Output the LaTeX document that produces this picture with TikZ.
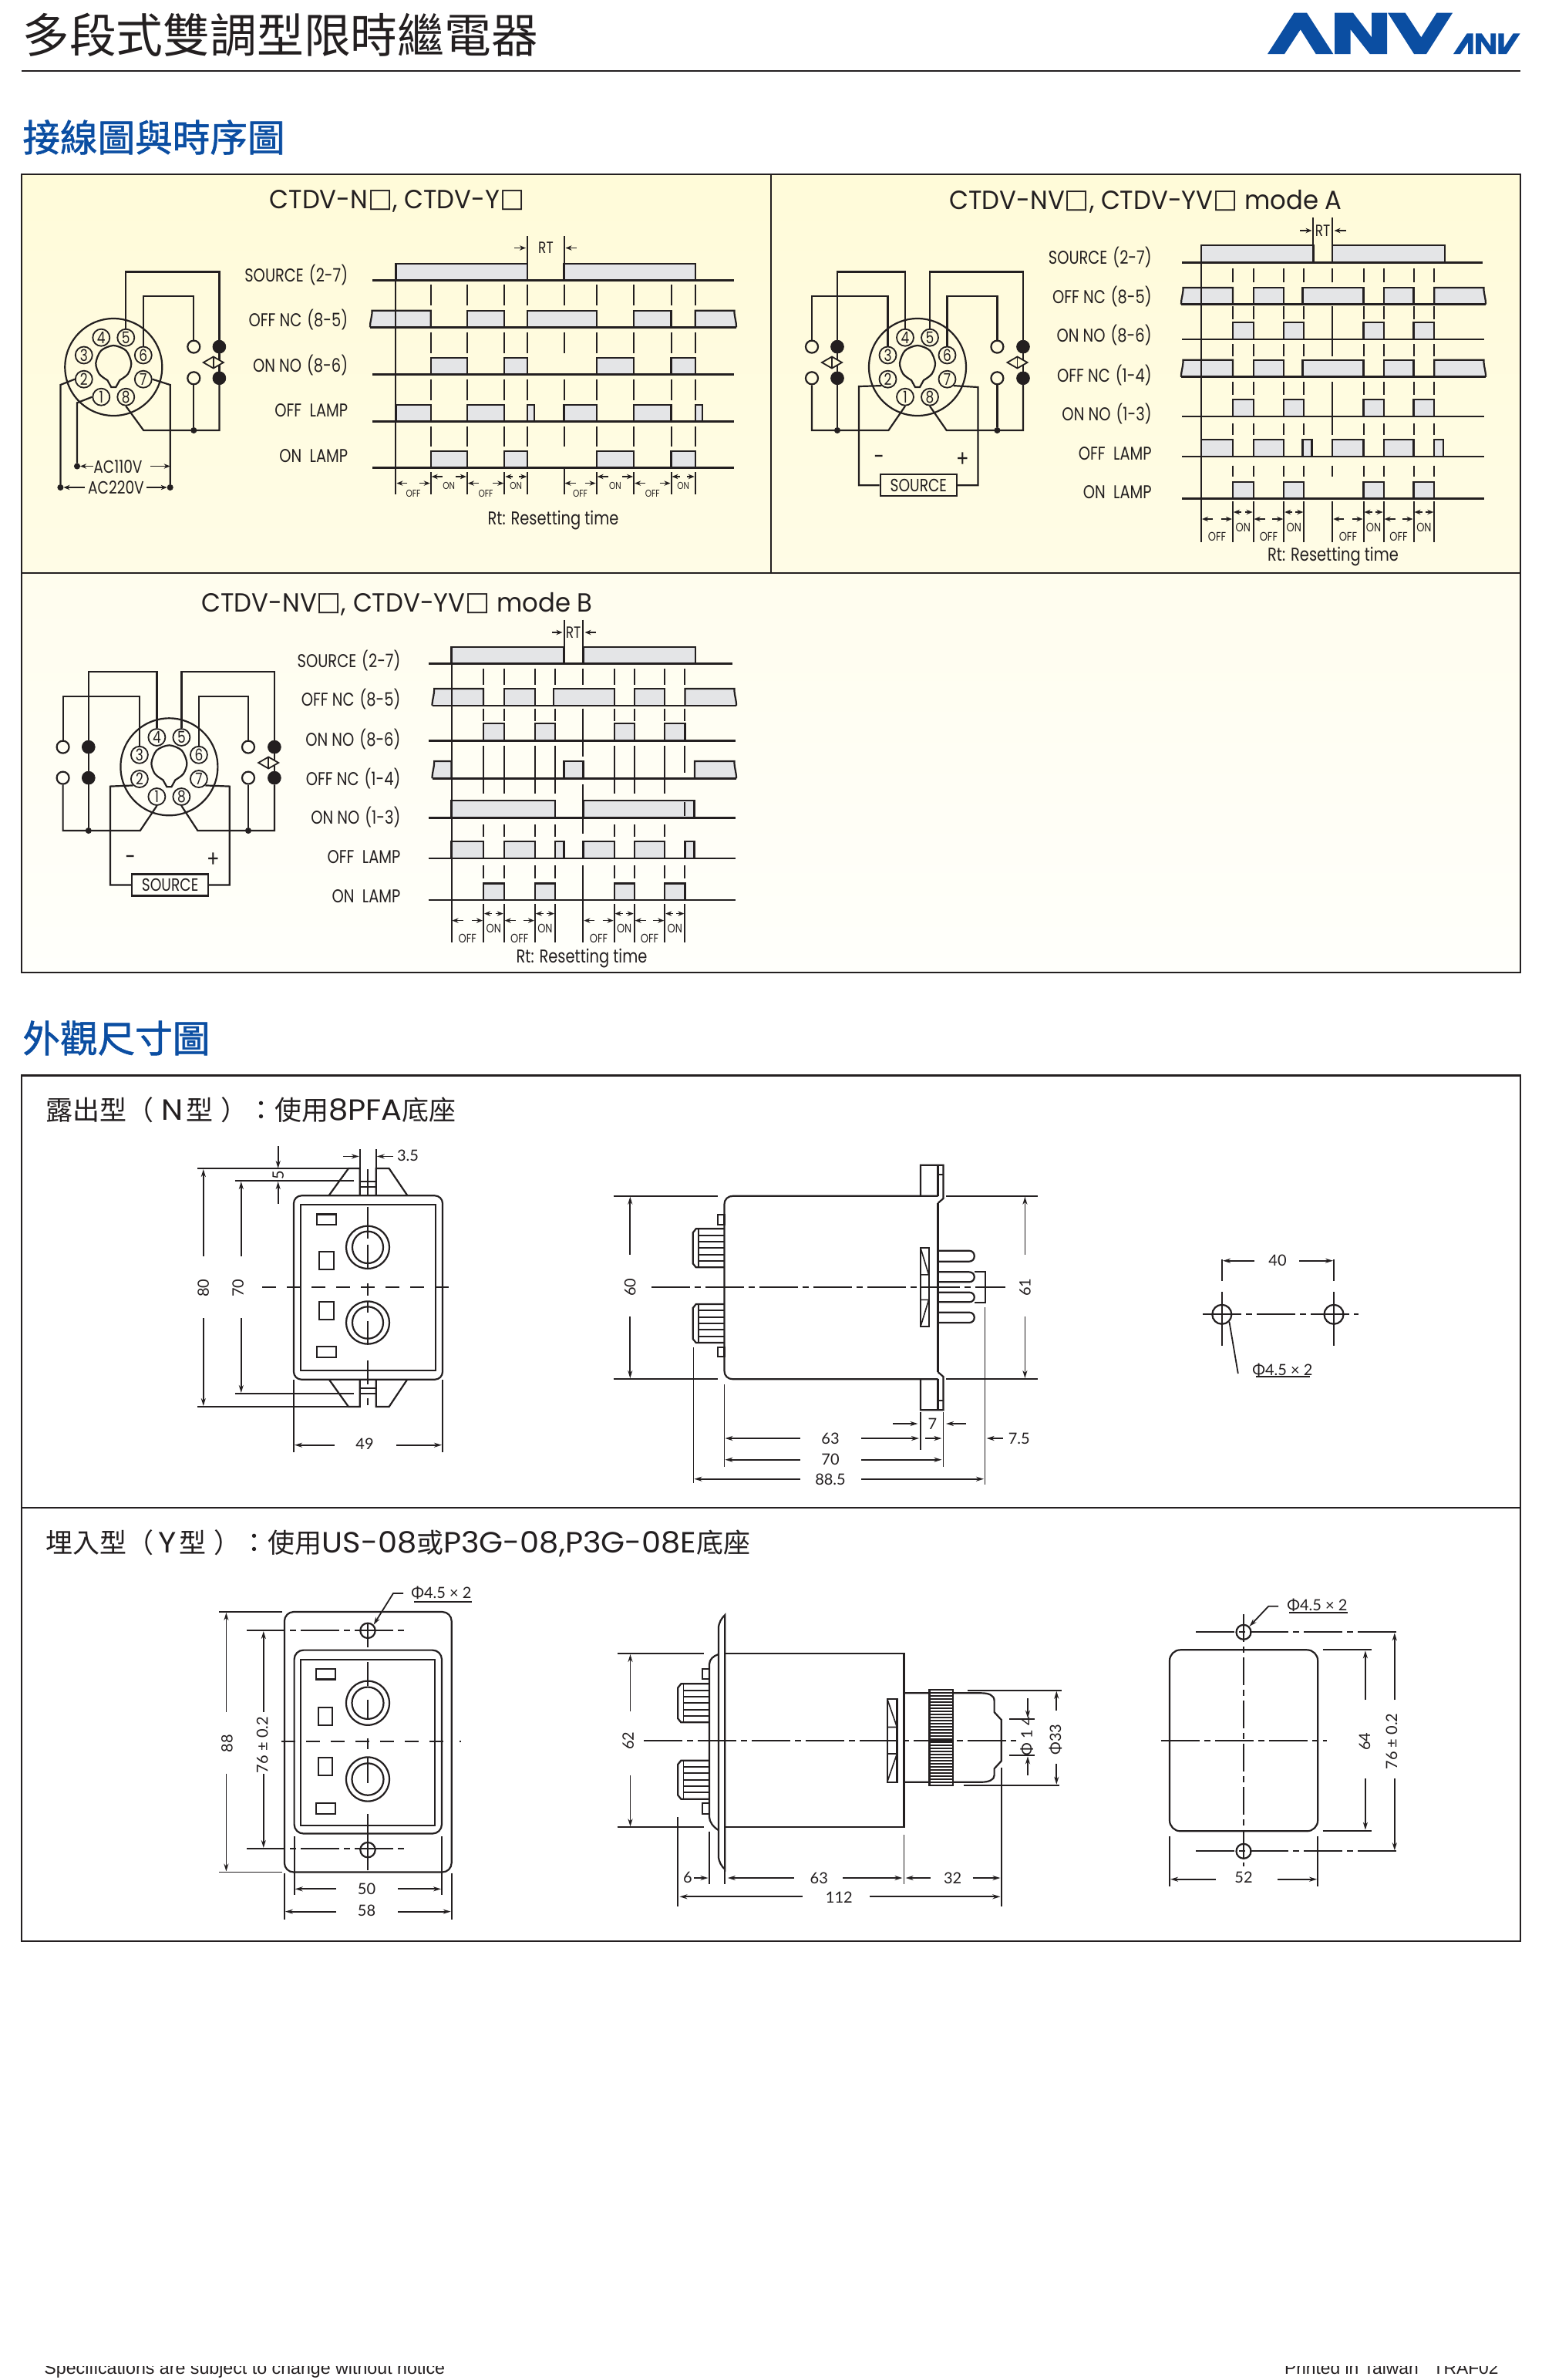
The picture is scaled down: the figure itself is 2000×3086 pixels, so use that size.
\documentclass[tikz,border=0pt]{standalone}
\usepackage{fontspec}
\usetikzlibrary{arrows.meta}
\newfontfamily\lblf[FakeStretch=0.81]{Poppins}
\newfontfamily\ttlf[FakeStretch=0.95]{Poppins}
\newfontfamily\subf[FakeStretch=1.05]{Poppins}
\newfontfamily\dimf{Lato}
\newfontfamily\djf{DejaVu Sans}
\newfontfamily\cjkf{Noto Sans CJK TC}
\newfontfamily\cjkm[FakeBold=1.2]{Noto Sans CJK TC}
\newfontfamily\footf{Liberation Sans}
\definecolor{ink}{HTML}{231F20}
\definecolor{anvblue}{HTML}{0B4EA2}
\definecolor{wavefill}{HTML}{E4E5E7}
\definecolor{creamA}{HTML}{FFFBD9}
\definecolor{creamB}{HTML}{FFFCE6}
\definecolor{creamC}{HTML}{FFFDEE}
\definecolor{creamD}{HTML}{FFFFFB}
\tikzset{
  wire/.style={draw=ink,line width=1.1pt},
  baseln/.style={draw=ink,line width=1.4pt},
  waveln/.style={draw=ink,line width=1.1pt},
  tick/.style={draw=ink,line width=1pt},
  part/.style={draw=ink,line width=1.1pt},
  dimln/.style={draw=ink,line width=.9pt},
  dimar/.style={draw=ink,line width=.9pt,-{Stealth[length=5pt,width=3pt]}},
  tarrow/.style={draw=ink,line width=.8pt,-{Stealth[length=4pt,width=3.2pt]}},
  cdash/.style={draw=ink,line width=1.1pt,dash pattern=on 25pt off 3pt on 4pt off 3pt},
  cdashb/.style={draw=ink,line width=1.3pt,dash pattern=on 9pt off 7pt},
  frameln/.style={draw=ink,line width=1.4pt},
  pinn/.style={circle,draw=ink,line width=.9pt,minimum size=11pt,inner sep=0pt,text=ink,font=\lblf\fontsize{10.5}{10}\selectfont},
  copen/.style={circle,draw=ink,line width=1.1pt,minimum size=8pt,inner sep=0pt},
  cfill/.style={circle,draw=ink,fill=ink,minimum size=8.4pt,inner sep=0pt},
  jdot/.style={circle,draw=ink,fill=ink,minimum size=3.6pt,inner sep=0pt},
  lbl/.style={text=ink,inner sep=0pt,font=\lblf\fontsize{12}{12}\selectfont},
  rowlbl/.style={lbl,anchor=east},
  rtt/.style={lbl,font=\lblf\fontsize{12}{12}\selectfont},
  smalll/.style={text=ink,inner sep=0pt,font=\lblf\fontsize{6.5}{7}\selectfont},
  smallm/.style={text=ink,inner sep=0pt,font=\lblf\fontsize{8}{8}\selectfont},
  ptitle/.style={text=ink,inner sep=0pt,font=\ttlf\fontsize{17}{17}\selectfont},
  dimt/.style={text=ink,inner sep=0pt,font=\dimf\fontsize{10}{10}\selectfont},
  dimr/.style={dimt,rotate=90},
  boxn/.style={draw=ink,line width=1.1pt,inner sep=0pt,text=ink,minimum width=49.5pt,minimum height=14pt,font=\lblf\fontsize{11.5}{11}\selectfont},
  head/.style={text=anvblue,inner sep=0pt,anchor=west,font=\cjkm\fontsize{24.3}{24}\selectfont},
  sub/.style={text=ink,inner sep=0pt,anchor=west,font=\cjkf\fontsize{17.5}{18}\selectfont},
}
\newcount\nidx
\newcommand\Tx[4][]{\global\advance\nidx by 1 \node[#1] (t\the\nidx) at (#2,#3) {#4};}
\newcommand\sqb{{\djf\fontsize{17}{15}\selectfont\raisebox{1pt}{□}}}
\newcommand\latn[1]{{\subf\fontsize{19}{18}\selectfont #1}}
\newcommand\gp{\hspace{3.5pt}}
\newcommand\Rt{Rt: Resetting time}
\newcommand\pulses[3]{\foreach \a/\b in {#3}{\fill[wavefill] (\a,#1) rectangle (\b,#2); \draw[waveln] (\a,#2) -- (\a,#1) -- (\b,#1) -- (\b,#2);}}
\newcommand\baseline[3]{\draw[baseln] (#2,#1) -- (#3,#1);}
\newcommand\brkL[4]{\fill[wavefill] (#3+2.5,#1) -- (#4,#1) -- (#4,#2) -- (#3,#2) .. controls (#3-.5,#2-6) and (#3+3,#1+7) .. cycle;
  \draw[waveln] (#3,#2) .. controls (#3-.5,#2-6) and (#3+3,#1+7) .. (#3+2.5,#1) -- (#4,#1) -- (#4,#2);}
\newcommand\brkR[4]{\fill[wavefill] (#3,#2) -- (#3,#1) -- (#4-2.5,#1) .. controls (#4-3,#1+7) and (#4+.5,#2-6) .. (#4,#2) -- cycle;
  \draw[waveln] (#3,#2) -- (#3,#1) -- (#4-2.5,#1) .. controls (#4-3,#1+7) and (#4+.5,#2-6) .. (#4,#2);}
\newcommand\ticks[2]{\foreach \xx in {#1}{\foreach \ya/\yb in {#2}{\draw[tick] (\xx,\ya) -- (\xx,\yb);}}}
\newcommand\segT[7]{%
  \draw[tarrow] (#1+#6+1,#3) -- (#1+1,#3);
  \draw[tarrow] (#2-#6-1,#3) -- (#2-1,#3);
  \pgfmathsetmacro\midx{(#1+#2)/2}
  \Tx[#7]{\midx}{#4}{#5}}
\newcommand\socket[3]{%
  \draw[part] (#2,#3) circle [radius=63];
  \begin{scope}[shift={(#2,#3)}]
    \draw[part] plot[smooth] coordinates {(-8,17) (-18.5,9) (-23,-5) (-16.3,-21.3) (0,-28) (16.3,-21.3) (23,-5) (18.5,9) (8,17)} -- (3,26) -- (-3,26) -- cycle;
    \node[pinn] (#1p4) at (-16,-38.3) {4};
    \node[pinn] (#1p5) at (16,-38.3) {5};
    \node[pinn] (#1p3) at (-38.5,-15.5) {3};
    \node[pinn] (#1p6) at (38.5,-15.5) {6};
    \node[pinn] (#1p2) at (-38.5,15.7) {2};
    \node[pinn] (#1p7) at (38.5,15.7) {7};
    \node[pinn] (#1p1) at (-16,38.7) {1};
    \node[pinn] (#1p8) at (16,38.7) {8};
  \end{scope}}
\newcommand\relay[3]{%
  \fill[#3] (#1-13,#2) -- (#1,#2-7.5) -- (#1+13,#2) -- (#1,#2+7.5) -- cycle;
  \draw[wire,line width=.9pt] (#1-13,#2) -- (#1,#2-7.5) -- (#1+13,#2) -- (#1,#2+7.5) -- cycle;
  \draw[wire,line width=.9pt] (#1,#2-7.5) -- (#1,#2+7.5);}
\newcommand\sknob[4]{%
  \draw[part] (#2,#3) -- (#1+4,#3) -- (#1,#3+5) -- (#1,#4-5) -- (#1+4,#4) -- (#2,#4);
  \draw[part,line width=.8pt] (#1+7,#3) -- (#1+7,#4);
  \foreach \i in {1,...,5}{\pgfmathsetmacro\yy{#3+\i*(#4-#3)/6}\draw[part,line width=.9pt] (#1+7,\yy) -- (#2,\yy);}}
\newcommand\sockin[4]{%
  \draw[part] (#1,#3) rectangle (#2,#4);
  \pgfmathsetmacro\ua{#3+(#4-#3)*.34}\pgfmathsetmacro\ub{#3+(#4-#3)*.66}
  \draw[part,line width=.8pt] (#1,\ua) -- (#2,\ua) (#1,\ub) -- (#2,\ub) (#1,#3) -- (#2,\ua) (#1,#4) -- (#2,\ub);}
\newcommand\spin[2]{\draw[part] (1216.5,#1) -- (1257,#1) .. controls (1266,#1) and (1266,#2) .. (1257,#2) -- (1216.5,#2);}
\newcommand\vsegs[3][part]{\foreach \a/\b in {#3}{\draw[#1] (#2,\a) -- (#2,\b);}}
\newcommand\frect[4]{\draw[part] (#1,#3) rectangle (#2,#4);}
\begin{document}
\begin{tikzpicture}[x=.5pt,y=-.5pt]
\useasboundingbox (0,0) rectangle (2000,3086);
\fill[white] (0,0) rectangle (2000,3086);
% ===== header
\Tx[text=ink,inner sep=0pt,anchor=west,font=\cjkf\fontsize{30.4}{30}\selectfont]{29}{45}{多段式雙調型限時繼電器}
\draw[frameln,line width=1.2pt] (28,92) -- (1972,92);
\fill[anvblue] (1644,70) -- (1678.3,16.7) -- (1695,16.7) -- (1729.3,70) -- (1706.7,70) -- (1686.7,38.3) -- (1666,70) -- cycle;
\fill[anvblue] (1731,70) -- (1731,16.7) -- (1755,16.7) -- (1779,48.3) -- (1779,16.7) -- (1799,16.7) -- (1799,70) -- (1776.7,70) -- (1751.7,38.3) -- (1751.7,70) -- cycle;
\fill[anvblue] (1800,16.7) -- (1822.7,16.7) -- (1843.3,48.3) -- (1863.3,16.7) -- (1884,16.7) -- (1850,70) -- (1834,70) -- cycle;
\fill[anvblue] (1885,70) -- (1902.7,43.3) -- (1910.7,43.3) -- (1910.7,70) -- (1904,70) -- (1904,55) -- (1894,70) -- cycle;
\fill[anvblue] (1914,70) -- (1914,43.3) -- (1921.7,43.3) -- (1933.3,60) -- (1933.3,43.3) -- (1940,43.3) -- (1940,70) -- (1932.7,70) -- (1921,53.3) -- (1921,70) -- cycle;
\fill[anvblue] (1943.3,43.3) -- (1950.7,43.3) -- (1950.7,61.7) -- (1962.7,43.3) -- (1971.7,43.3) -- (1954,70) -- (1943.3,70) -- cycle;
\Tx[head]{29}{178}{接線圖與時序圖}
\Tx[head]{29}{1346}{外觀尺寸圖}
% ===== wiring frame
\shade[top color=creamA,bottom color=creamB] (28,226) rectangle (1972,743);
\shade[top color=creamC,bottom color=creamD] (28,743) rectangle (1972,1261);
\draw[frameln] (28,226) rectangle (1972,1261);
\draw[frameln] (28,743) -- (1972,743);
\draw[frameln] (1000,226) -- (1000,743);
% ===== panel 1
\Tx[ptitle]{515}{261}{CTDV-N\sqb, CTDV-Y\sqb}
\socket{A}{147.3}{476}
\node[copen] (Aco1) at (251.3,449.6) {};
\node[copen] (Aco2) at (251.3,490.3) {};
\node[cfill] (Acf1) at (284.4,449.6) {};
\node[cfill] (Acf2) at (284.4,490.3) {};
\node[jdot] (Ad) at (251.3,558) {};
\draw[wire] (Acf1) -- (Acf2);
\relay{276.8}{470}{creamA}
\draw[wire] (Ap5.north) |- (284.4,352.5) -- (Acf1.north);
\draw[wire] (Ap6.north) |- (251.3,384) -- (Aco1.north);
\draw[wire] (Aco2.south) -- (Ad);
\draw[wire] (Acf2.south) |- (186.2,558) -- (Ap8.south);
\node[jdot] (Ad1) at (78.4,632) {};
\node[jdot] (Ad2) at (220.7,632) {};
\node[jdot] (Ad3) at (100,604.5) {};
\coordinate (Aa7) at (220.7,604.5);
\draw[wire] (Ap2.west) -- (78.4,499) -- (Ad1);
\draw[wire] (Ap1.west) -- (100,522.3) -- (Ad3);
\draw[wire] (Ap7.east) -- (220.7,499) -- (Ad2);
\Tx[lbl,font=\lblf\fontsize{11.5}{12}\selectfont]{153}{605}{AC110V}
\Tx[lbl,font=\lblf\fontsize{11.5}{12}\selectfont]{150.5}{632}{AC220V}
\draw[tarrow] (121,604.5) -- (Ad3);
\draw[tarrow] (195,604.5) -- (Aa7);
\draw[tarrow] (110,632) -- (Ad1);
\draw[tarrow] (190,632) -- (Ad2);
\Tx[rowlbl]{451.5}{357}{SOURCE\gp(2-7)}
\Tx[rowlbl]{451.5}{415}{OFF NC\gp(8-5)}
\Tx[rowlbl]{451.5}{473.5}{ON NO\gp(8-6)}
\Tx[rowlbl]{451.5}{532}{OFF\ \ LAMP}
\Tx[rowlbl]{451.5}{591}{ON\ \ LAMP}
\pulses{342}{363.5}{513.4/684.3,731.5/901.8}
\brkL{402.7}{424.3}{480}{558.7}
\pulses{402.7}{424.3}{605.9/654.3,684.3/773.6,822.1/870.5}
\brkR{402.7}{424.3}{901.8}{955}
\pulses{464}{485.5}{558.7/605.9,654.3/684.3,773.6/822.1,870.5/901.8}
\pulses{525}{546.7}{513.4/558.7,605.9/654.3,684.3/693,731.5/773.6,822.1/870.5,901.8/911}
\pulses{585}{606.5}{558.7/605.9,654.3/684.3,773.6/822.1,870.5/901.8}
\baseline{363.5}{483}{952}
\baseline{424.3}{480}{955}
\baseline{485.5}{483}{952}
\baseline{546.7}{483}{952}
\baseline{606.5}{483}{952}
\draw[tick] (513.4,342) -- (513.4,641);
\ticks{558.7,605.9,654.3,684.3,731.5,773.6,822.1,870.5,901.8}{369/396,430.5/458,491.7/519,552.5/579}
\ticks{558.7,605.9,654.3,684.3,731.5,773.6,822.1,870.5,901.8}{612/641}
\draw[tick] (731.5,606.5) -- (731.5,612);
\draw[tick] (684.3,306) -- (684.3,342);
\draw[tick] (731.5,306) -- (731.5,342);
\draw[tarrow] (667,321.5) -- (682,321.5);
\draw[tarrow] (748,321.5) -- (733.5,321.5);
\Tx[lbl,font=\lblf\fontsize{10.5}{11}\selectfont]{708}{321}{RT}
\segT{513.4}{558.7}{626.6}{639.5}{OFF}{14}{smalll}
\segT{558.7}{605.9}{618}{630}{ON}{14}{smalll}
\segT{605.9}{654.3}{626.6}{639.5}{OFF}{14}{smalll}
\segT{654.3}{684.3}{618}{630}{ON}{10}{smalll}
\segT{731.5}{773.6}{626.6}{639.5}{OFF}{14}{smalll}
\segT{773.6}{822.1}{618}{630}{ON}{14}{smalll}
\segT{822.1}{870.5}{626.6}{639.5}{OFF}{14}{smalll}
\segT{870.5}{901.8}{618}{630}{ON}{10}{smalll}
\Tx[rtt]{717.5}{675}{\Rt}
% ===== panel 2
\Tx[ptitle]{1486}{261}{CTDV-NV\sqb, CTDV-YV\sqb{} mode A}
\socket{B}{1190}{476}
\node[copen] (Bco1) at (1053,449.6) {};
\node[copen] (Bco2) at (1053,490.3) {};
\node[cfill] (Bcf1) at (1086,449.6) {};
\node[cfill] (Bcf2) at (1086,490.3) {};
\node[copen] (Bco3) at (1293.4,449.6) {};
\node[copen] (Bco4) at (1293.4,490.3) {};
\node[cfill] (Bcf3) at (1327,449.6) {};
\node[cfill] (Bcf4) at (1327,490.3) {};
\node[jdot] (Bd1) at (1086,558) {};
\node[jdot] (Bd2) at (1293.4,558) {};
\draw[wire] (Bcf1) -- (Bcf2);
\draw[wire] (Bcf3) -- (Bcf4);
\relay{1079}{470}{creamA}
\relay{1319.5}{470}{creamA}
\draw[wire] (Bp4.north) |- (1086,352.5) -- (Bcf1.north);
\draw[wire] (Bp3.north) |- (1053,384) -- (Bco1.north);
\draw[wire] (Bp5.north) |- (1327,352.5) -- (Bcf3.north);
\draw[wire] (Bp6.north) |- (1293.4,384) -- (Bco3.north);
\draw[wire] (Bco2.south) |- (1152.4,558) -- (Bp1.south);
\draw[wire] (Bcf2.south) -- (Bd1);
\draw[wire] (Bcf4.south) |- (1227.7,558) -- (Bp8.south);
\draw[wire] (Bco4.south) -- (Bd2);
\node[boxn] (Bsrc) at (1191.3,629.2) {SOURCE};
\draw[wire] (Bp2.south west) -- (1114,501) |- (Bsrc.west);
\draw[wire] (Bp7.south east) -- (1268.5,502) |- (Bsrc.east);
\Tx[lbl,font=\lblf\fontsize{15}{15}\selectfont]{1140}{596}{−}
\Tx[lbl,font=\lblf\fontsize{15}{15}\selectfont]{1248.7}{596}{+}
\Tx[rowlbl]{1494}{333.4}{SOURCE\gp(2-7)}
\Tx[rowlbl]{1494}{385}{OFF NC\gp(8-5)}
\Tx[rowlbl]{1494}{435}{ON NO\gp(8-6)}
\Tx[rowlbl]{1494}{486.4}{OFF NC\gp(1-4)}
\Tx[rowlbl]{1494}{537}{ON NO\gp(1-3)}
\Tx[rowlbl]{1494}{588}{OFF\ \ LAMP}
\Tx[rowlbl]{1494}{638.5}{ON\ \ LAMP}
\pulses{318}{340.6}{1558/1703.4,1728.3/1873.7}
\brkL{373}{394.6}{1532}{1598.9}
\pulses{373}{394.6}{1625.6/1665.2,1689.5/1768.5,1794.6/1833.5}
\brkR{373}{394.6}{1860.3}{1927}
\pulses{417.6}{440}{1598.9/1625.6,1665.2/1691.3,1768.5/1794.6,1833.5/1860.3}
\brkL{466.8}{488.8}{1532}{1598.9}
\pulses{466.8}{488.8}{1625.6/1665.2,1689.5/1768.5,1794.6/1833.5}
\brkR{466.8}{488.8}{1860.3}{1927}
\pulses{518}{540}{1598.9/1625.6,1665.2/1691.3,1768.5/1794.6,1833.5/1860.3}
\pulses{570}{592}{1558/1598.9,1625.6/1665.2,1689.5/1701.5,1728.3/1768.5,1794.6/1833.5,1860.3/1871.8}
\pulses{624.7}{646.7}{1598.9/1625.6,1665.2/1691.3,1768.5/1794.6,1833.5/1860.3}
\baseline{340.6}{1533}{1923}
\baseline{394.6}{1532}{1927}
\baseline{440}{1533}{1925}
\baseline{488.8}{1532}{1927}
\baseline{540}{1533}{1925}
\baseline{592}{1533}{1925}
\baseline{646.7}{1533}{1925}
\draw[tick] (1558,318) -- (1558,703);
\ticks{1598.9,1625.6,1665.2,1691.3,1728.3,1768.5,1794.6,1833.5,1860.3}{348/366,397/414,446/461.6,495/512,549/564.4,603.6/618,650/703}
\draw[tick] (1728.3,414) -- (1728.3,446);
\draw[tick] (1728.3,512) -- (1728.3,549);
\draw[tick] (1703.4,282) -- (1703.4,318);
\draw[tick] (1728.3,282) -- (1728.3,318);
\draw[tarrow] (1686,299) -- (1701.5,299);
\draw[tarrow] (1746,299) -- (1730.5,299);
\Tx[lbl,font=\lblf\fontsize{10.5}{11}\selectfont]{1715.6}{299}{RT}
\segT{1558}{1598.9}{673}{696}{OFF}{14}{smallm}
\segT{1598.9}{1625.6}{664}{684}{ON}{10}{smallm}
\segT{1625.6}{1665.2}{673}{696}{OFF}{14}{smallm}
\segT{1665.2}{1691.3}{664}{684}{ON}{10}{smallm}
\segT{1728.3}{1768.5}{673}{696}{OFF}{14}{smallm}
\segT{1768.5}{1794.6}{664}{684}{ON}{10}{smallm}
\segT{1794.6}{1833.5}{673}{696}{OFF}{14}{smallm}
\segT{1833.5}{1860.3}{664}{684}{ON}{10}{smallm}
\Tx[rtt]{1729}{722}{\Rt}
% ===== panel 3
\Tx[ptitle]{515}{783}{CTDV-NV\sqb, CTDV-YV\sqb{} mode B}
\socket{C}{219.4}{994.3}
\node[copen] (Cco1) at (81.6,968.6) {};
\node[copen] (Cco2) at (81.6,1008.6) {};
\node[cfill] (Ccf1) at (114.8,968.6) {};
\node[cfill] (Ccf2) at (114.8,1008.6) {};
\node[copen] (Cco3) at (322,968.6) {};
\node[copen] (Cco4) at (322,1008.6) {};
\node[cfill] (Ccf3) at (355.9,968.6) {};
\node[cfill] (Ccf4) at (355.9,1008.6) {};
\node[jdot] (Cd1) at (114.8,1077) {};
\node[jdot] (Cd2) at (322,1077) {};
\draw[wire] (Ccf1) -- (Ccf2);
\draw[wire] (Ccf3) -- (Ccf4);
\relay{348.2}{989}{creamC}
\draw[wire] (Cp4.north) |- (114.8,870.7) -- (Ccf1.north);
\draw[wire] (Cp3.north) |- (81.6,902.9) -- (Cco1.north);
\draw[wire] (Cp5.north) |- (355.9,870.7) -- (Ccf3.north);
\draw[wire] (Cp6.north) |- (322,902.9) -- (Cco3.north);
\draw[wire] (Cco2.south) |- (181.8,1077) -- (Cp1.south);
\draw[wire] (Ccf2.south) -- (Cd1);
\draw[wire] (Ccf4.south) |- (256.4,1077) -- (Cp8.south);
\draw[wire] (Cco4.south) -- (Cd2);
\node[boxn] (Csrc) at (220.6,1147.5) {SOURCE};
\draw[wire] (Cp2.south west) -- (142.9,1019.6) |- (Csrc.west);
\draw[wire] (Cp7.south east) -- (297.8,1019.6) |- (Csrc.east);
\Tx[lbl,font=\lblf\fontsize{15}{15}\selectfont]{169}{1115}{−}
\Tx[lbl,font=\lblf\fontsize{15}{15}\selectfont]{276.8}{1115}{+}
\Tx[rowlbl]{519.8}{856.8}{SOURCE\gp(2-7)}
\Tx[rowlbl]{519.8}{907}{OFF NC\gp(8-5)}
\Tx[rowlbl]{519.8}{958.6}{ON NO\gp(8-6)}
\Tx[rowlbl]{519.8}{1009.3}{OFF NC\gp(1-4)}
\Tx[rowlbl]{519.8}{1060}{ON NO\gp(1-3)}
\Tx[rowlbl]{519.8}{1110.7}{OFF\ \ LAMP}
\Tx[rowlbl]{519.8}{1161.8}{ON\ \ LAMP}
\pulses{839}{860.7}{585.5/731.5,756.4/901.8}
\brkL{893}{915}{560.6}{627}
\pulses{893}{915}{653.7/693.9,718/796.6,822.7/862.2}
\brkR{893}{915}{888.4}{955}
\pulses{938}{960.4}{627/653.7,693.9/720,796.6/822.7,862.2/888.4}
\brkL{987}{1009.3}{560.6}{585.5}
\pulses{987}{1009.3}{731.5/756.4}
\brkR{987}{1009.3}{901}{955}
\pulses{1038}{1060.4}{585.5/720,756.4/900.5}
\pulses{1090.7}{1112.9}{585.5/627,653.7/693.9,720/731.5,756.4/796.6,822.7/862.2,888.4/900.5}
\pulses{1145.4}{1167}{627/653.7,693.9/720,796.6/822.7,862.2/888.4}
\baseline{860.7}{555.5}{950}
\baseline{915}{560.6}{955}
\baseline{960.4}{555.5}{953.5}
\baseline{1009.3}{560.6}{955}
\baseline{1060.4}{555.5}{953.5}
\baseline{1112.9}{555.5}{953.5}
\baseline{1167}{555.5}{953.5}
\draw[tick] (585.5,839) -- (585.5,1222);
\ticks{627,653.7,693.9,720,796.6,822.7,862.2,888.4}{867/888,918.6/934.6,1122/1139.3,1172/1222}
\ticks{627,653.7,693.9,720,796.6,822.7,862.2}{966.8/1029,1069/1084.6}
\ticks{756.4}{867/888,918.6/981,1017/1081,1122/1222}
\draw[tick] (888.4,966.8) -- (888.4,1002);
\draw[tick] (888.4,1040) -- (888.4,1058);
\draw[tick] (731.5,803.6) -- (731.5,839);
\draw[tick] (756.4,803.6) -- (756.4,839);
\draw[tarrow] (715.5,820) -- (729.5,820);
\draw[tarrow] (773,820) -- (758.5,820);
\Tx[lbl,font=\lblf\fontsize{10.5}{11}\selectfont]{743.6}{820}{RT}
\segT{585.5}{627}{1193.6}{1216.8}{OFF}{14}{smallm}
\segT{627}{653.7}{1184.6}{1204}{ON}{10}{smallm}
\segT{653.7}{693.9}{1193.6}{1216.8}{OFF}{14}{smallm}
\segT{693.9}{720}{1184.6}{1204}{ON}{10}{smallm}
\segT{756.4}{796.6}{1193.6}{1216.8}{OFF}{14}{smallm}
\segT{796.6}{822.7}{1184.6}{1204}{ON}{10}{smallm}
\segT{822.7}{862.2}{1193.6}{1216.8}{OFF}{14}{smallm}
\segT{862.2}{888.4}{1184.6}{1204}{ON}{10}{smallm}
\Tx[rtt]{754.5}{1242.5}{\Rt}
% ===== dimension frame
\draw[frameln] (28,1394.5) rectangle (1972,2517);
\draw[frameln,line width=1.1pt] (28,1955) -- (1972,1955);
\Tx[sub]{59}{1439}{露出型（\hspace{5pt}\latn{N}\hspace{2pt}型\hspace{5pt}）：使用\latn{8PFA}底座}
\Tx[sub]{59}{2001}{埋入型（\hspace{3pt}\latn{Y}\hspace{2pt}型\hspace{5pt}）：使用\latn{US-08}或\latn{P3G-08,P3G-08E}底座}
% ----- N front
\draw[part,rounded corners=5pt] (381,1550.3) rectangle (574,1788.7);
\frect{389.8}{564.8}{1561.8}{1777}
\frect{411}{435.7}{1574.4}{1587.8}
\frect{414.3}{432.7}{1622.6}{1646}
\frect{414.3}{432.7}{1688}{1711}
\frect{411}{435.7}{1746}{1760}
\foreach \yc in {1617.3,1715}{
  \draw[part] (477,\yc) ellipse [x radius=28,y radius=27.6];
  \draw[part] (477,\yc) ellipse [x radius=20,y radius=20.7];}
\vsegs{477}{1516/1549.5,1564.5/1605.8,1613.5/1646,1664/1680,1688/1701.5,1713/1743.6,1764/1795,1812.5/1822}
\draw[cdashb] (340,1669) -- (588,1669);
\draw[part] (427,1549.5) -- (452,1515) -- (466.8,1515) -- (466.8,1549.5);
\draw[part] (528,1549.5) -- (504.6,1515) -- (487.8,1515) -- (487.8,1549.5);
\draw[part] (466.8,1532) -- (487.8,1532) (466.8,1539) -- (487.8,1539);
\draw[part] (427,1789) -- (452,1824) -- (466.8,1824) -- (466.8,1789);
\draw[part] (528,1789) -- (504.6,1824) -- (487.8,1824) -- (487.8,1789);
\draw[part] (466.8,1800) -- (487.8,1800) (466.8,1807) -- (487.8,1807);
\draw[dimln] (256,1515) -- (466.8,1515) (256,1824) -- (466.8,1824);
\draw[dimln] (304.6,1531) -- (458.7,1531) (304.6,1806.7) -- (458.7,1806.7);
\draw[dimar] (263.8,1629) -- (263.8,1516);
\draw[dimar] (263.8,1709) -- (263.8,1823);
\Tx[dimr]{263.8}{1670}{80}
\draw[dimar] (312.8,1629) -- (312.8,1532);
\draw[dimar] (312.8,1709) -- (312.8,1806);
\Tx[dimr]{308.7}{1670}{70}
\draw[dimar] (360.7,1486) -- (360.7,1515);
\Tx[dimr]{360.7}{1523.5}{5}
\draw[dimar] (360.7,1560.6) -- (360.7,1532);
\draw[dimln] (466.8,1490) -- (466.8,1515) (487.8,1490) -- (487.8,1515);
\draw[dimar] (445.4,1499.4) -- (465.8,1499.4);
\draw[dimar] (509.7,1499.4) -- (488.8,1499.4);
\Tx[dimt]{529}{1498.6}{3.5}
\draw[dimln] (381,1789) -- (381,1883) (574,1789) -- (574,1883);
\draw[dimar] (433.7,1873.7) -- (382,1873.7);
\draw[dimar] (513.8,1873.7) -- (573,1873.7);
\Tx[dimt]{473}{1872.5}{49}
% ----- N side
\draw[part] (1216.5,1550.7) -- (951,1550.7) .. controls (944,1550.7) and (939.4,1555) .. (939.4,1562) -- (939.4,1777) .. controls (939.4,1784) and (944,1788.3) .. (951,1788.3) -- (1216.5,1788.3);
\draw[part] (1216.5,1560) -- (1216.5,1779);
\draw[part] (1194,1550.7) -- (1194,1510.7) -- (1223.5,1510.7) -- (1223.5,1554) -- (1216.5,1560);
\draw[part] (1216.5,1510.7) -- (1216.5,1550.7) (1216.5,1522.7) -- (1223.5,1522.7);
\draw[part] (1194,1788.3) -- (1194,1828.3) -- (1223.5,1828.3) -- (1223.5,1785) -- (1216.5,1779);
\draw[part] (1216.5,1828.3) -- (1216.5,1788.3) (1216.5,1816) -- (1223.5,1816);
\draw[dimln] (795.6,1550.7) -- (931,1550.7) (1227,1550.7) -- (1346,1550.7);
\draw[dimln] (795.6,1788.3) -- (931,1788.3) (1227,1788.3) -- (1346,1788.3);
\frect{931}{939.4}{1575}{1587.7}
\frect{931}{939.4}{1746.7}{1759.3}
\sknob{898.7}{939.4}{1593.3}{1643.3}
\sknob{898.7}{939.4}{1691}{1741}
\draw[cdash] (844.7,1669.3) -- (1304,1669.3);
\sockin{1194}{1204.6}{1618.3}{1720}
\spin{1621.7}{1635.7}
\spin{1649.3}{1662.3}
\spin{1675.7}{1688.3}
\spin{1701.7}{1715}
\draw[part] (1264,1649) -- (1278,1649) -- (1278,1689) -- (1264,1689);
\draw[dimar] (817.3,1626.7) -- (817.3,1551.7);
\draw[dimar] (817.3,1707) -- (817.3,1787);
\Tx[dimr]{817.3}{1669.3}{60}
\draw[dimar] (1329.4,1626.7) -- (1329.4,1551.7);
\draw[dimar] (1329.4,1707) -- (1329.4,1787);
\Tx[dimr]{1329.4}{1669.3}{61}
\draw[dimln] (1194,1830.7) -- (1194,1880) (1223.5,1830.7) -- (1223.5,1901.7);
\draw[dimar] (1158,1846) -- (1190.5,1846);
\draw[dimar] (1253,1846) -- (1227,1846);
\Tx[dimt]{1209.5}{1846}{7}
\draw[dimar] (1037.6,1865) -- (940.4,1865);
\draw[dimar] (1117,1865) -- (1192,1865);
\Tx[dimt]{1077}{1865}{63}
\draw[dimar] (1200,1865) -- (1221.4,1865);
\draw[dimln] (1277.5,1695) -- (1277.5,1925);
\draw[dimar] (1300.7,1865) -- (1279.6,1865);
\Tx[dimt]{1321.7}{1865}{7.5}
\draw[dimln] (939.4,1795) -- (939.4,1901.7);
\draw[dimar] (1037.6,1892.7) -- (940.4,1892.7);
\draw[dimar] (1117,1892.7) -- (1221.4,1892.7);
\Tx[dimt]{1077}{1892.7}{70}
\draw[dimln] (899.4,1747) -- (899.4,1923);
\draw[dimar] (1037.6,1917.7) -- (900.4,1917.7);
\draw[dimar] (1117,1917.7) -- (1276,1917.7);
\Tx[dimt]{1077}{1918}{88.5}
% ----- N mounting holes
\node[circle,draw=ink,line width=1.1pt,minimum size=12.5pt,inner sep=0pt] (nh1) at (1584.8,1704.3) {};
\node[circle,draw=ink,line width=1.1pt,minimum size=12.5pt,inner sep=0pt] (nh2) at (1730,1704.3) {};
\draw[cdash] (1560,1704.3) -- (1761.6,1704.3);
\vsegs[dimln]{1584.8}{1632.7/1661,1675/1745}
\vsegs[dimln]{1730}{1632.7/1661,1675/1745}
\draw[dimar] (1627,1634.7) -- (1586,1634.7);
\draw[dimar] (1685,1634.7) -- (1729,1634.7);
\Tx[dimt]{1657}{1634}{40}
\coordinate (nl1) at (1605.8,1781);
\draw[dimln] (nh1.south east) -- (nl1);
\Tx[dimt]{1663.4}{1776}{Φ4.5 × 2}
\draw[dimln,line width=1.2pt] (1629,1785) -- (1699,1785);
% ----- Y front
\draw[part,rounded corners=6pt] (368.9,2090) rectangle (585.7,2427.5);
\draw[part,rounded corners=6pt] (381.6,2139.6) rectangle (573,2377.5);
\frect{389.8}{564.3}{2151.8}{2366.8}
\frect{409.7}{434.7}{2164.3}{2177.5}
\frect{413.3}{431}{2213.6}{2236.8}
\frect{413.3}{431}{2278.6}{2301.8}
\frect{409.7}{434.7}{2338.2}{2351.8}
\foreach \yc in {2208.2,2307}{
  \draw[part] (477,\yc) ellipse [x radius=28,y radius=28.6];
  \draw[part] (477,\yc) ellipse [x radius=20.5,y radius=20.7];}
\node[circle,draw=ink,line width=1.1pt,minimum size=9.7pt,inner sep=0pt] (yh1) at (477,2114.3) {};
\node[circle,draw=ink,line width=1.1pt,minimum size=9.7pt,inner sep=0pt] (yh2) at (477,2398.6) {};
\vsegs{477}{2104.6/2135.7,2155/2185.7,2203.6/2228.6,2253.6/2268,2278/2312,2351.8/2425}
\draw[cdashb] (364.8,2258) -- (584,2258);
\draw[part] (596,2258) -- (598,2258);
\draw[cdash] (320,2114.3) -- (528,2114.3);
\draw[cdash] (320,2397) -- (528,2397);
\draw[dimln] (284.2,2090) -- (366.3,2090) (284.2,2427.5) -- (366.3,2427.5);
\draw[dimar] (293.4,2219.6) -- (293.4,2091);
\draw[dimar] (293.4,2300) -- (293.4,2426.5);
\Tx[dimr]{294.4}{2260.7}{88}
\draw[dimar] (341.8,2219.6) -- (341.8,2115);
\draw[dimar] (341.8,2300) -- (341.8,2396);
\Tx[dimr]{340.3}{2262.5}{76 ± 0.2}
\draw[dimln] (381.6,2381.4) -- (381.6,2457) (573,2381.4) -- (573,2457);
\draw[dimar] (436,2449.3) -- (382.6,2449.3);
\draw[dimar] (516,2449.3) -- (572,2449.3);
\Tx[dimt]{475.5}{2449}{50}
\draw[dimln] (368.9,2428.6) -- (368.9,2489.3) (585.7,2428.6) -- (585.7,2489.3);
\draw[dimar] (436,2478.6) -- (369.9,2478.6);
\draw[dimar] (516,2478.6) -- (584.7,2478.6);
\Tx[dimt]{475.5}{2477.5}{58}
\Tx[dimt]{572.4}{2065}{Φ4.5 × 2}
\draw[dimln,line width=1.2pt] (537,2076.8) -- (612,2076.8);
\coordinate (yl1) at (523,2066);
\draw[dimar] (yl1) -- (510,2066) -- (yh1.north east);
% ----- Y side
\draw[part] (931.9,2112) .. controls (931.9,2104) and (936,2098) .. (940.3,2094) -- (940.3,2424) .. controls (936,2420) and (931.9,2414) .. (931.9,2406) -- cycle;
\draw[part] (940.3,2144) -- (1172.5,2144) -- (1172.5,2369.3) -- (940.3,2369.3);
\draw[part] (931.9,2145) .. controls (925,2147) and (920,2152) .. (920,2158) -- (920,2356) .. controls (920,2362) and (925,2369) .. (931.9,2373);
\draw[dimln] (800.7,2144) -- (913,2144) (800.7,2369.3) -- (913,2369.3);
\frect{910.8}{920}{2164}{2177.3}
\frect{910.8}{920}{2338.3}{2351.7}
\sknob{879.3}{920}{2183.3}{2233.3}
\sknob{879.3}{920}{2282.7}{2332.7}
\sockin{1150.7}{1163.4}{2202.7}{2310.7}
\draw[part] (1172.5,2195.3) -- (1273,2195.3) .. controls (1282,2195.3) and (1289.6,2198) .. (1289.6,2205) -- (1289.6,2220) -- (1298.8,2230) -- (1298.8,2283.3) -- (1289.6,2293.3) -- (1289.6,2302) .. controls (1289.6,2308) and (1282,2310.7) .. (1273,2310.7) -- (1172.5,2310.7);
\fill[white] (1205.5,2191) rectangle (1235.6,2315.3);
\frect{1205.5}{1235.6}{2191}{2315.3}
\foreach \yy in {2195,2199,...,2312}{\draw[draw=ink,line width=.9pt] (1205.5,\yy) -- (1235.6,\yy);}
\draw[cdash] (835,2257) -- (1317.7,2257);
\draw[dimar] (817.5,2219.3) -- (817.5,2145);
\draw[dimar] (817.5,2301.7) -- (817.5,2368.3);
\Tx[dimr]{814.7}{2257}{62}
\draw[dimln] (1309,2228.7) -- (1342,2228.7) (1309,2276) -- (1342,2276);
\draw[dimar] (1333,2202) -- (1333,2227.7);
\draw[dimar] (1333,2301.7) -- (1333,2277.3);
\Tx[dimr]{1331.7}{2251}{Φ 1 4}
\draw[dimln] (1254.6,2191.7) -- (1377.3,2191.7) (1249.6,2314.7) -- (1373.8,2314.7);
\draw[dimar] (1370.3,2218) -- (1370.3,2192.7);
\draw[dimar] (1370.3,2287) -- (1370.3,2313.7);
\Tx[dimr]{1369}{2255.7}{Φ33}
\draw[dimln] (879.3,2356) -- (879.3,2471.7) (920,2375) -- (920,2442.7) (940.3,2425) -- (940.3,2442.7) (1172.5,2379.3) -- (1172.5,2442.7) (1298.8,2291.7) -- (1298.8,2471.7);
\Tx[dimt]{891.9}{2434.3}{6}
\draw[dimar] (900.3,2435) -- (918.5,2435);
\draw[dimar] (1030,2435) -- (943.8,2435);
\draw[dimar] (1093.2,2435) -- (1170.4,2435);
\Tx[dimt]{1062.3}{2435}{63}
\draw[dimar] (1206.9,2435) -- (1174.6,2435);
\draw[dimar] (1261.6,2435) -- (1297.4,2435);
\Tx[dimt]{1235.6}{2435}{32}
\draw[dimar] (1040.6,2459.3) -- (881.4,2459.3);
\draw[dimar] (1128.3,2459.3) -- (1297.4,2459.3);
\Tx[dimt]{1088.3}{2460}{112}
% ----- Y cutout
\draw[part,rounded corners=7pt] (1517,2139.3) rectangle (1709.2,2374.3);
\draw[draw=ink,line width=1pt,dash pattern=on 18pt off 3pt on 4pt off 3pt] (1613,2092.7) -- (1613,2420);
\draw[cdash] (1505.7,2257) -- (1721,2257);
\node[circle,draw=ink,line width=1.1pt,minimum size=9.5pt,inner sep=0pt] (ch1) at (1613,2116.3) {};
\node[circle,draw=ink,line width=1.1pt,minimum size=9.5pt,inner sep=0pt] (ch2) at (1613,2400.3) {};
\draw[cdash] (1551,2116.3) -- (1815.7,2116.3);
\draw[cdash] (1551,2400.3) -- (1815.7,2400.3);
\draw[dimln] (1715.5,2139.3) -- (1779.3,2139.3) (1715.5,2373.7) -- (1779.3,2373.7);
\draw[dimar] (1770.9,2204.3) -- (1770.9,2140.3);
\draw[dimar] (1770.9,2305.7) -- (1770.9,2372.7);
\Tx[dimr]{1770}{2258}{64}
\draw[dimar] (1808.8,2204.3) -- (1808.8,2117.3);
\draw[dimar] (1808.8,2305.7) -- (1808.8,2399.3);
\Tx[dimr]{1805}{2258}{76 ± 0.2}
\draw[dimln] (1517,2380.7) -- (1517,2445.7) (1709.2,2380.7) -- (1709.2,2445.7);
\draw[dimar] (1577.3,2436.7) -- (1518,2436.7);
\draw[dimar] (1656.5,2436.7) -- (1708.2,2436.7);
\Tx[dimt]{1613}{2434.3}{52}
\Tx[dimt]{1708.4}{2081}{Φ4.5 × 2}
\draw[dimln,line width=1.2pt] (1672,2090.7) -- (1747.7,2090.7);
\coordinate (cl1) at (1658,2082.7);
\draw[dimar] (cl1) -- (1645.3,2082.7) -- (ch1.north east);
% ===== footer
\begin{scope}
\clip (0,3068) rectangle (2000,3086);
\Tx[text=ink,inner sep=0pt,anchor=base west,font=\footf\fontsize{11.6}{11}\selectfont]{57}{3078}{Specifications are subject to change without notice}
\Tx[text=ink,inner sep=0pt,anchor=base east,font=\footf\fontsize{11.4}{11}\selectfont]{1944}{3078}{Printed in Taiwan\ \ \ TRAF02}
\end{scope}
\end{tikzpicture}
\end{document}
